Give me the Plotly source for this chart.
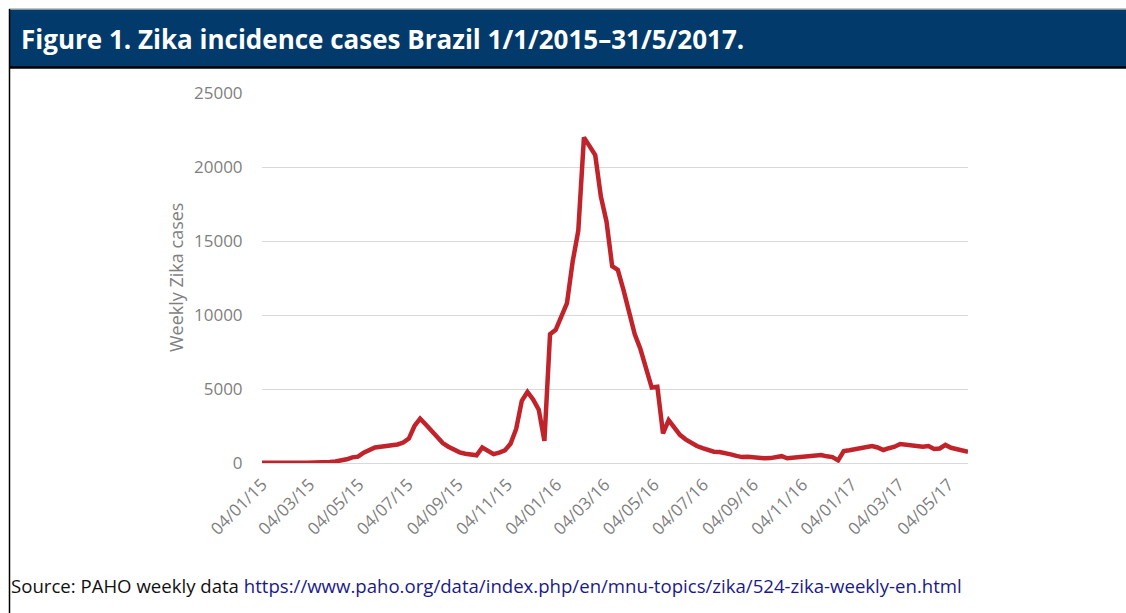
import pandas as pd
import plotly.graph_objects as go

# Weekly Zika cases, Brazil (weeks starting 2015-01-04)
start_date = "2015-01-04"
weekly_cases = [
    15, 25, 40, 50, 45, 35, 30, 25, 20, 15,
    20, 30, 60, 100, 160, 250, 380, 430, 700, 850,
    1050, 1100, 1150, 1200, 1250, 1380, 1650, 2500, 3000, 2600,
    2150, 1750, 1350, 1100, 900, 720, 630, 600, 520, 1050,
    850, 600, 700, 850, 1300, 2300, 4200, 4800, 4300, 3600,
    1500, 8700, 9000, 9900, 10800, 13600, 15700, 22000, 21400, 20800,
    18000, 16300, 13300, 13050, 11700, 10300, 8700, 7700, 6300, 5100,
    5150, 2000, 2900, 2400, 1900, 1600, 1350, 1150, 1000, 900,
    760, 740, 680, 580, 480, 400, 430, 380, 320, 320,
    330, 380, 460, 320, 360, 400, 380, 430, 480, 540,
    450, 400, 180, 810, 860, 930, 1060, 1100, 1150, 1050,
    880, 1000, 1100, 1280, 1250, 1230, 1150, 1100, 1150, 950,
    980, 1220, 1030, 950, 850, 760,
]
weeks = pd.date_range(start_date, periods=len(weekly_cases), freq="7D")

tick_dates = ["2015-01-04", "2015-03-04", "2015-05-04", "2015-07-04", "2015-09-04",
              "2015-11-04", "2016-01-04", "2016-03-04", "2016-05-04", "2016-07-04",
              "2016-09-04", "2016-11-04", "2017-01-04", "2017-03-04", "2017-05-04"]
tick_labels = ["04/01/15", "04/03/15", "04/05/15", "04/07/15", "04/09/15",
               "04/11/15", "04/01/16", "04/03/16", "04/05/16", "04/07/16",
               "04/09/16", "04/11/16", "04/01/17", "04/03/17", "04/05/17"]
y_ticks = [0, 5000, 10000, 15000, 20000, 25000]
y_labels = ["0", "5000", "10000", "15000", "20000", "25000"]

title_text = "Figure 1. Zika incidence cases Brazil 1/1/2015\u201331/5/2017."
source_label = "Source: PAHO weekly data "
source_url = "https://www.paho.org/data/index.php/en/mnu-topics/zika/524-zika-weekly-en.html"

W, H = 1126, 613
L, R, T, B = 262, 968, 93, 463


def px(x):
    return (x - L) / (R - L)


def py(y):
    return (B - y) / (B - T)


fig = go.Figure()
fig.add_trace(go.Scatter(
    x=weeks, y=weekly_cases, mode="lines",
    line=dict(color="#C1232B", width=4.5), showlegend=False,
))

grey = "#7F7F7F"
tick_font = dict(family="Open Sans, sans-serif", size=17, color=grey)

fig.update_layout(
    width=W, height=H,
    margin=dict(l=L, r=W - R, t=T, b=H - B),
    paper_bgcolor="white", plot_bgcolor="white",
    xaxis=dict(
        range=[weeks[0], weeks[-1]],
        tickvals=tick_dates, ticktext=tick_labels, tickangle=-45,
        showgrid=False, zeroline=False, showline=False,
        ticks="outside", ticklen=4, tickcolor="rgba(0,0,0,0)",
        tickfont=tick_font,
    ),
    yaxis=dict(
        range=[0, 25000], tickvals=y_ticks, ticktext=y_labels,
        showgrid=True, gridcolor="#D9D9D9", gridwidth=1,
        zeroline=True, zerolinecolor="#D9D9D9", zerolinewidth=1,
        showline=False,
        ticks="outside", ticklen=15, tickcolor="rgba(0,0,0,0)",
        tickfont=tick_font,
    ),
    shapes=[
        dict(type="rect", xref="paper", yref="paper",
             x0=px(9), x1=px(1130), y0=py(67), y1=py(9.5),
             fillcolor="#013A6B", line=dict(width=0)),
        dict(type="line", xref="paper", yref="paper",
             x0=px(9), x1=px(1130), y0=py(9), y1=py(9),
             line=dict(color="#8C8C8C", width=1)),
        dict(type="line", xref="paper", yref="paper",
             x0=px(9), x1=px(1130), y0=py(67.5), y1=py(67.5),
             line=dict(color="#000000", width=2.5)),
        dict(type="line", xref="paper", yref="paper",
             x0=px(9.5), x1=px(9.5), y0=py(9), y1=py(620),
             line=dict(color="#000000", width=1.5)),
    ],
    annotations=[
        dict(xref="paper", yref="paper", x=px(19), y=py(39),
             xanchor="left", yanchor="middle", showarrow=False,
             text="<b>" + title_text + "</b>",
             font=dict(family="Open Sans, sans-serif", size=26, color="white")),
        dict(xref="paper", yref="paper", x=px(176), y=0.5,
             xanchor="center", yanchor="middle", showarrow=False, textangle=-90,
             text="Weekly Zika cases",
             font=dict(family="Open Sans, sans-serif", size=18, color=grey)),
        dict(xref="paper", yref="paper", x=px(9), y=py(585),
             xanchor="left", yanchor="middle", showarrow=False,
             text=source_label + "<span style='color:#1A1A8C'>" + source_url + "</span>",
             font=dict(family="Open Sans, sans-serif", size=18.6, color="#111111")),
    ],
)

fig.write_html(
    "out.html",
    config={"displayModeBar": False},
    post_script="document.body.style.margin='0';document.body.style.overflow='hidden';",
)
